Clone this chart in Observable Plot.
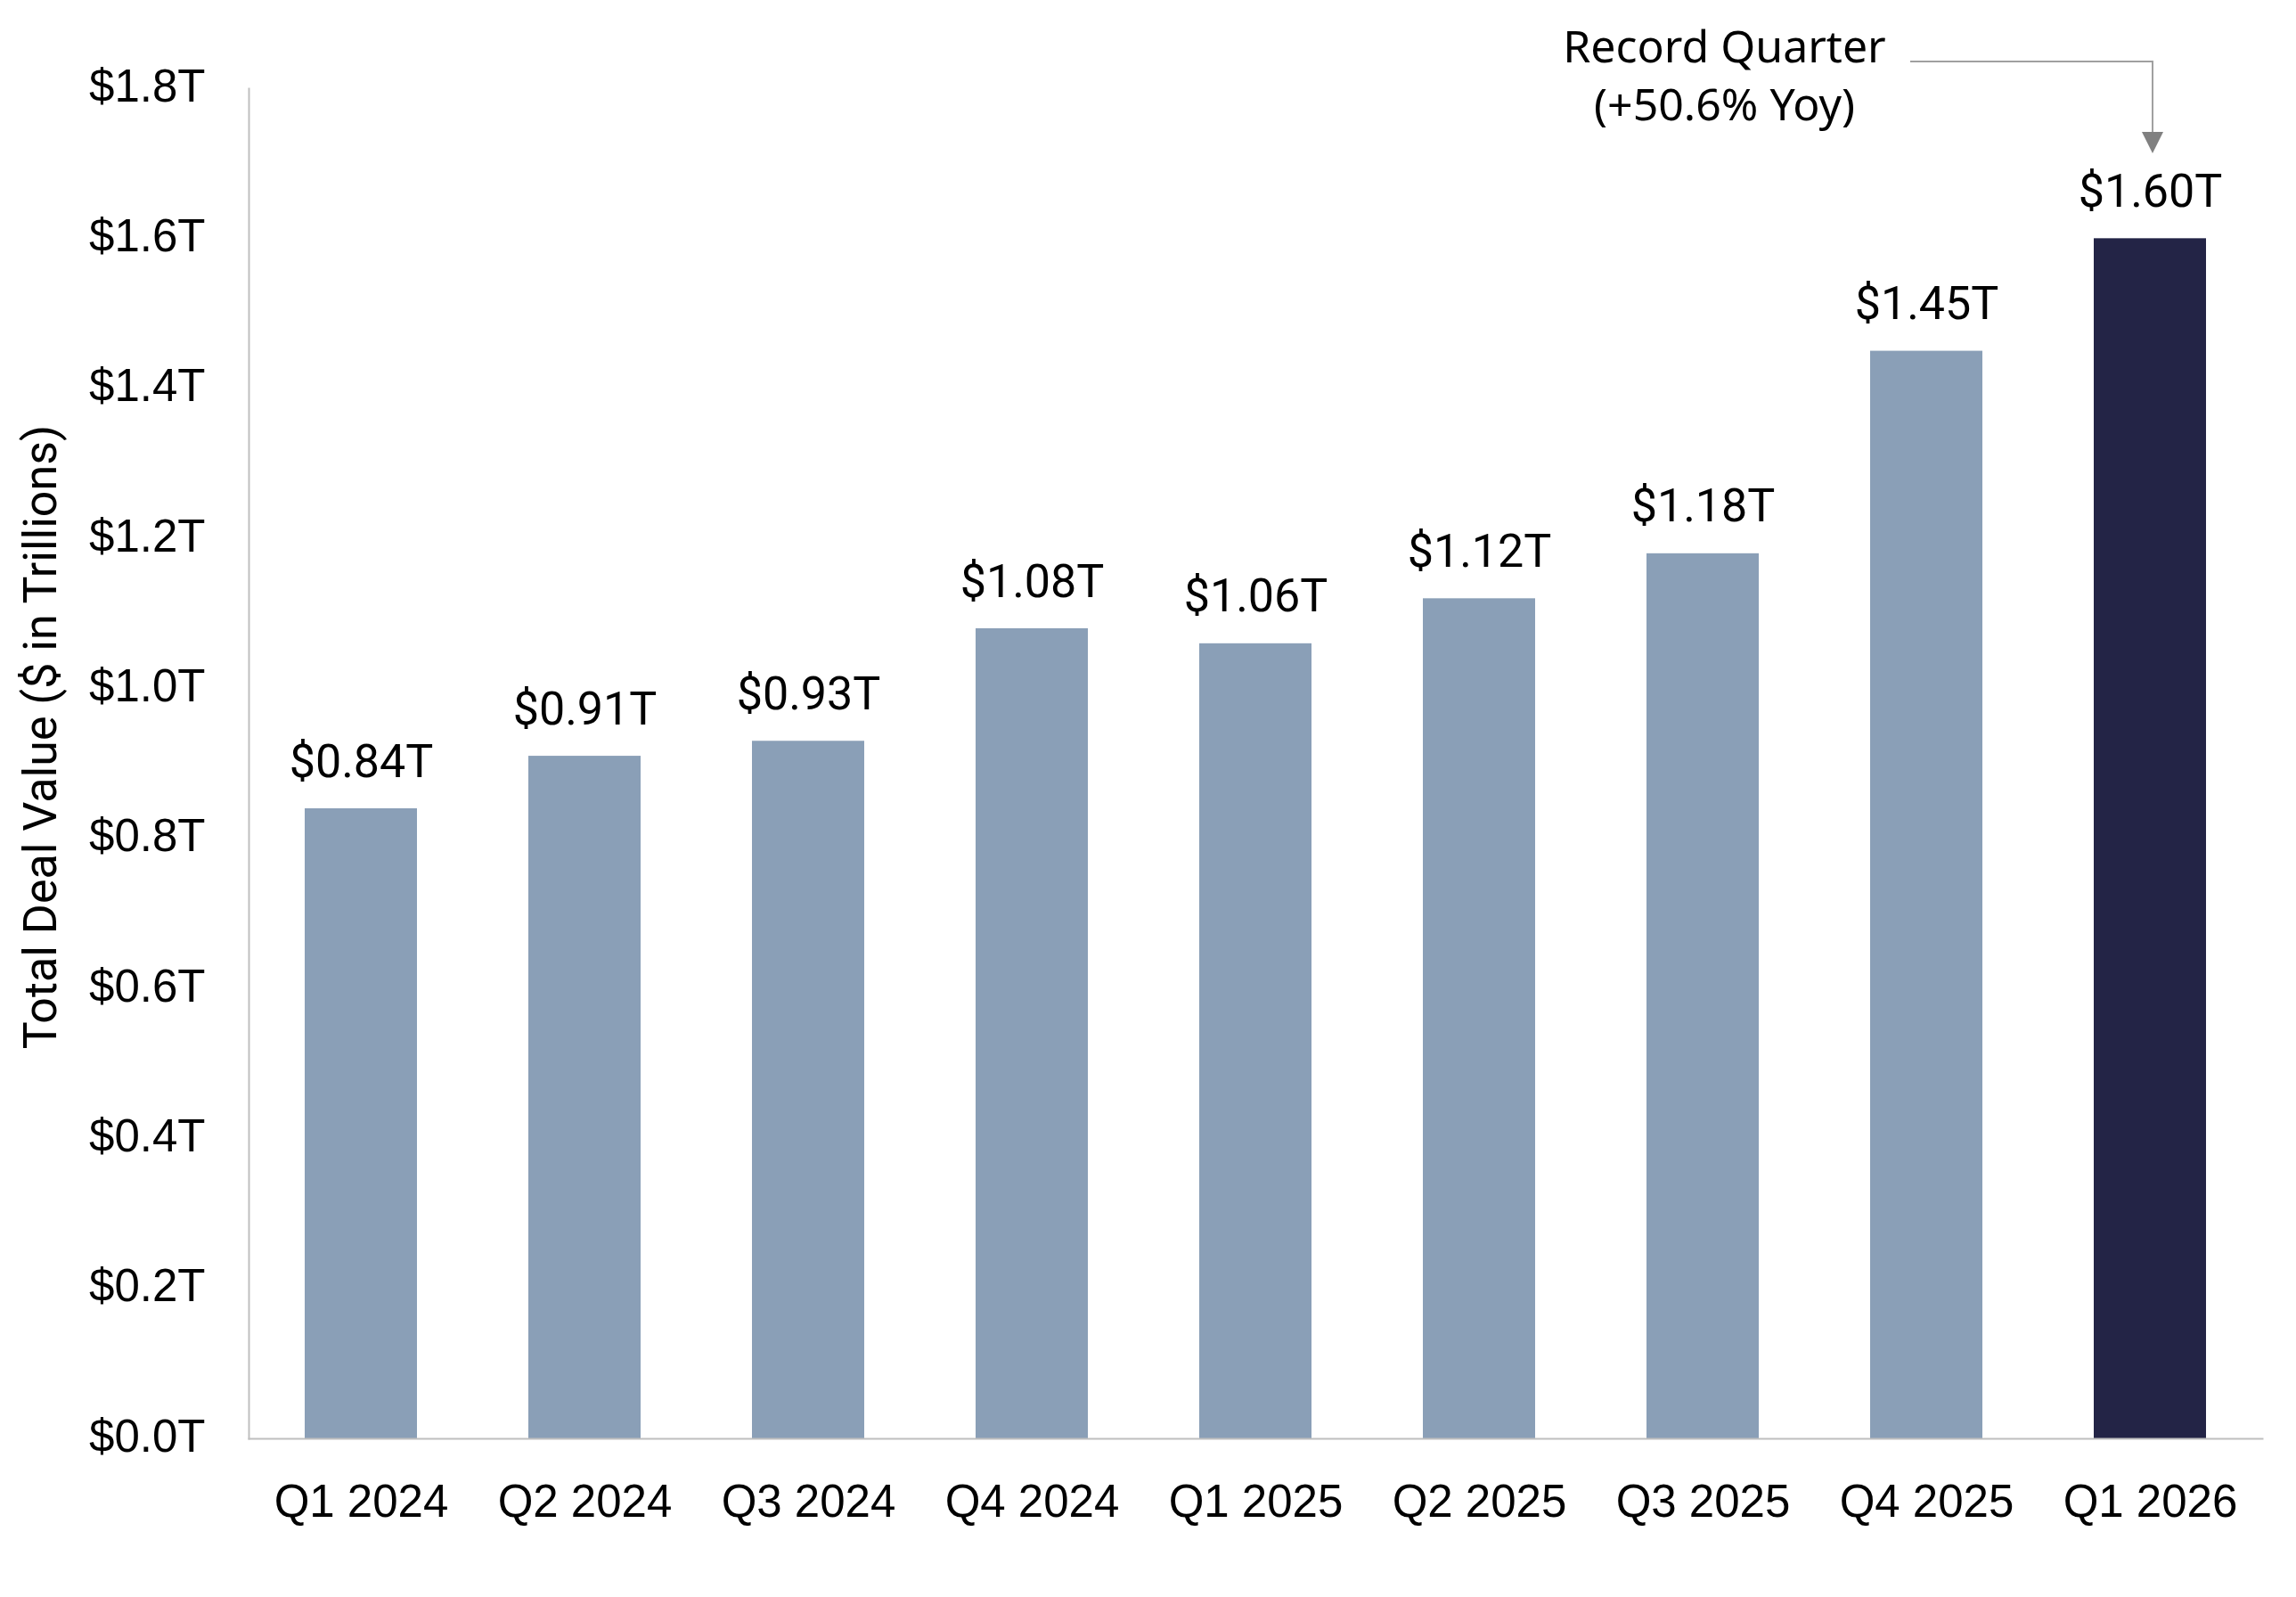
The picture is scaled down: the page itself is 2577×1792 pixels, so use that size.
<!DOCTYPE html>
<html><head><meta charset="utf-8">
<script src="https://cdn.jsdelivr.net/npm/d3@7"></script>
<script src="https://cdn.jsdelivr.net/npm/@observablehq/plot@0.6"></script>
<style>body{margin:0;background:#fff} #chart svg{display:block}</style>
</head><body><div id="chart"></div>
<script>
const quarters = ["Q1 2024","Q2 2024","Q3 2024","Q4 2024","Q1 2025","Q2 2025","Q3 2025","Q4 2025","Q1 2026"];
const values = [0.84, 0.91, 0.93, 1.08, 1.06, 1.12, 1.18, 1.45, 1.60];
const highlight = "Q1 2026";
const yTicks = [0, 0.2, 0.4, 0.6, 0.8, 1.0, 1.2, 1.4, 1.6, 1.8];
const yTitle = "Total Deal Value ($ in Trillions)";
const annotationText = "Record Quarter\n(+50.6% Yoy)";

const rows = quarters.map((q, i) => ({quarter: q, value: values[i]}));

const plot = Plot.plot({
  width: 2577, height: 1792,
  marginLeft: 279, marginRight: 38, marginTop: 99, marginBottom: 178,
  style: {fontFamily: "'Liberation Sans', Arial, sans-serif", fontSize: "51px", color: "#000", background: "#fff"},
  x: {domain: quarters, paddingInner: 0.5, paddingOuter: 0.25, label: null},
  y: {domain: [0, 1.8], label: null},
  color: {type: "identity"},
  marks: [
    Plot.barY(rows, {x: "quarter", y: "value", fill: d => d.quarter === highlight ? "#232446" : "#8A9FB7"}),
    Plot.axisY({ticks: yTicks, tickSize: 0, tickPadding: 49, tickFormat: d => `$${d.toFixed(1)}T`, label: null, fontSize: 51, dy: -2}),
    Plot.axisX({tickSize: 0, tickPadding: 51, label: null, fontSize: 51}),
    Plot.frame({anchor: "left", stroke: "#BFBFBF", strokeWidth: 2}),
    Plot.frame({anchor: "bottom", stroke: "#BFBFBF", strokeWidth: 2}),
    Plot.text(rows, {x: "quarter", y: "value", text: d => `$${d.value.toFixed(2)}T`, dy: -36, lineAnchor: "bottom", fontFamily: "Roboto", fontSize: 52, fill: "#000"}),
    Plot.text([yTitle], {frameAnchor: "left", textAnchor: "middle", rotate: -90, dx: -233, dy: -30, text: d => d, fontFamily: "Roboto", fontSize: 52, fill: "#000"}),
    Plot.text([annotationText], {x: () => highlight, y: () => 1.8, text: d => d, dx: -478, dy: -18, lineAnchor: "middle", fontFamily: "'Noto Sans'", fontSize: 50, lineHeight: 65/50, fill: "#000"})
  ]
});

document.getElementById("chart").appendChild(plot);

const xs = plot.scale("x"), ys = plot.scale("y");
const cx = xs.apply(highlight) + xs.bandwidth / 2 + 3;
const y0 = ys.apply(1.8);
const svg = d3.select(plot);
const g = svg.append("g");
g.append("path")
  .attr("d", `M${cx - 272},${y0 - 30}H${cx}V${y0 + 50}`)
  .attr("fill", "none").attr("stroke", "#A0A0A0").attr("stroke-width", 2);
g.append("path")
  .attr("d", `M${cx - 12},${y0 + 49}L${cx + 12},${y0 + 49}L${cx},${y0 + 73}Z`)
  .attr("fill", "#808080");
</script>
</body></html>
